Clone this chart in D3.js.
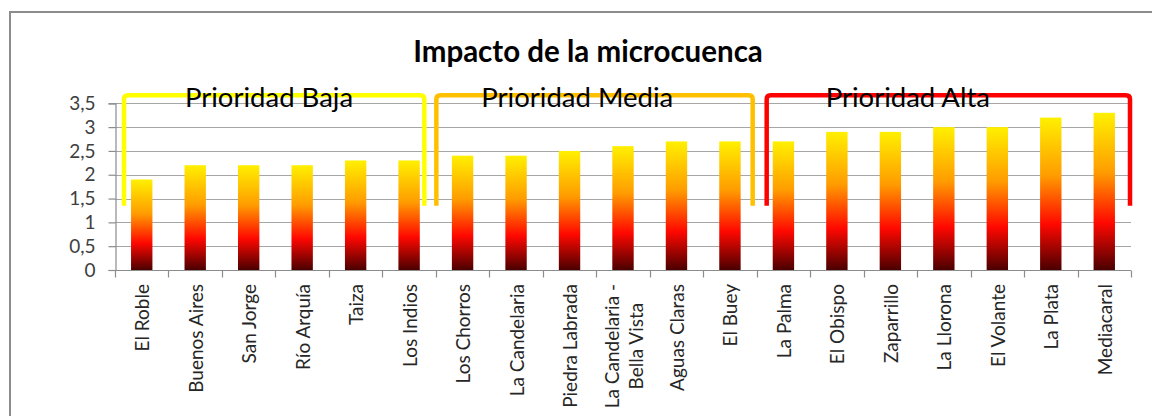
<!DOCTYPE html>
<html>
<head>
<meta charset="utf-8">
<script src="https://cdn.jsdelivr.net/npm/d3@7"></script>
<style>
  html, body { margin: 0; padding: 0; background: #fff; }
  svg { display: block; }
</style>
</head>
<body>
<svg id="chart" width="1152" height="416"></svg>
<script>
// ---- data ----
const title = "Impacto de la microcuenca";
const categories = ["El Roble", "Buenos Aires", "San Jorge", "Río Arquía", "Taiza", "Los Indios",
  "Los Chorros", "La Candelaria", "Piedra Labrada", "La Candelaria - Bella Vista", "Aguas Claras", "El Buey",
  "La Palma", "El Obispo", "Zaparrillo", "La Llorona", "El Volante", "La Plata", "Mediacaral"];
const values = [1.9, 2.2, 2.2, 2.2, 2.3, 2.3, 2.4, 2.4, 2.5, 2.6, 2.7, 2.7, 2.7, 2.9, 2.9, 3.0, 3.0, 3.2, 3.3];
const yTicks = [0, 0.5, 1, 1.5, 2, 2.5, 3, 3.5];
const groupNames = ["Prioridad Baja", "Prioridad Media", "Prioridad Alta"];
const groupStart = [0, 6, 12];
const groupEnd = [5, 11, 18];
const groupColors = ["#FFFF00", "#FFC000", "#FF0000"];
const bracketTop = 3.67, bracketBottom = 1.35;

// ---- layout (styling only) ----
const svg = d3.select("#chart");
const plot = { left: 115, right: 1131, top: 103.3, bottom: 270 };
const x = d3.scaleBand().domain(categories).range([plot.left, plot.right]).paddingInner(0).paddingOuter(0);
const y = d3.scaleLinear().domain([0, 3.5]).range([plot.bottom, plot.top]);
const bw = x.bandwidth();
const barW = bw / 2.5;
const FONT = "Lato, 'Open Sans', sans-serif";

// frame
svg.append("rect").attr("x", 10).attr("y", 12).attr("width", 1200).attr("height", 500)
  .attr("fill", "none").attr("stroke", "#8c8c8c").attr("stroke-width", 2);

// gradient
const defs = svg.append("defs");
const grad = defs.append("linearGradient").attr("id", "fire")
  .attr("x1", 0).attr("y1", 0).attr("x2", 0).attr("y2", 1);
[[0, "#FFF000"], [0.38, "#FF9C00"], [0.7, "#FF0800"], [1, "#4A0000"]].forEach(([o, c]) =>
  grad.append("stop").attr("offset", o).attr("stop-color", c));

// gridlines
svg.append("g").selectAll("line").data(yTicks.filter(t => t > 0)).join("line")
  .attr("x1", plot.left).attr("x2", plot.right)
  .attr("y1", d => Math.round(y(d)) + 0.5).attr("y2", d => Math.round(y(d)) + 0.5)
  .attr("stroke", "#a6a6a6").attr("stroke-width", 1.2);

// y axis
const yAxis = d3.axisLeft(y).tickValues(yTicks).tickSize(7).tickPadding(13)
  .tickFormat(d => String(d).replace(".", ","));
const gy = svg.append("g").attr("transform", `translate(${plot.left + 0.5},0)`).call(yAxis);
gy.select(".domain").attr("stroke", "#8c8c8c").attr("stroke-width", 1.2);
gy.selectAll(".tick line").attr("stroke", "#8c8c8c").attr("stroke-width", 1.2);
gy.selectAll(".tick text").attr("font-family", FONT).attr("font-size", 19)
  .attr("fill", "#404040");

// bars
svg.append("g").selectAll("rect").data(values).join("rect")
  .attr("x", (d, i) => x(categories[i]) + (bw - barW) / 2)
  .attr("y", d => y(d))
  .attr("width", barW)
  .attr("height", d => y(0) - y(d))
  .attr("fill", "url(#fire)");

// x axis
const gx = svg.append("g").attr("transform", `translate(0,${plot.bottom + 0.5})`);
gx.append("line").attr("x1", plot.left).attr("x2", plot.right).attr("stroke", "#8c8c8c").attr("stroke-width", 1.2);
const boundaries = categories.map(c => x(c)).concat([plot.right]);
gx.selectAll("line.tk").data(boundaries).join("line").attr("class", "tk")
  .attr("x1", d => Math.round(d) + 0.5).attr("x2", d => Math.round(d) + 0.5).attr("y1", 0).attr("y2", 7)
  .attr("stroke", "#8c8c8c").attr("stroke-width", 1.2);

// x labels (rotated, wrapped)
const labelTop = 284, maxLen = 140, lineGap = 24;
const lab = svg.append("g").attr("font-family", FONT).attr("font-size", 19).attr("fill", "#262626");
categories.forEach((c, i) => {
  const cx = x(c) + bw / 2;
  const words = c.split(" ");
  const lines = [];
  let cur = "";
  const probe = lab.append("text").attr("visibility", "hidden");
  words.forEach(w => {
    const t = cur ? cur + " " + w : w;
    probe.text(t);
    if (cur && probe.node().getComputedTextLength() > maxLen) { lines.push(cur); cur = w; }
    else cur = t;
  });
  lines.push(cur);
  const lens = lines.map(l => { probe.text(l); return probe.node().getComputedTextLength(); });
  probe.remove();
  const mx = d3.max(lens);
  lines.forEach((l, k) => {
    const off = (k - (lines.length - 1) / 2) * lineGap;
    lab.append("text")
      .attr("transform", `translate(${cx + off},${labelTop + mx / 2}) rotate(-90)`)
      .attr("text-anchor", "middle").attr("dominant-baseline", "central")
      .text(l);
  });
});

// brackets
const bracketInset = [[9, -11.5], [0.5, -4], [10, -1]];
const labelOffset = [61, 45, 59];
const bg = svg.append("g");
groupNames.forEach((g, i) => {
  const x0 = x(categories[groupStart[i]]) + bracketInset[i][0];
  const x1 = x(categories[groupEnd[i]]) + bw + bracketInset[i][1];
  const yt = y(bracketTop), yb = y(bracketBottom), r = 4;
  const p = `M${x0},${yb} L${x0},${yt + r} Q${x0},${yt} ${x0 + r},${yt} L${x1 - r},${yt} Q${x1},${yt} ${x1},${yt + r} L${x1},${yb}`;
  bg.append("path").attr("d", p).attr("fill", "none").attr("stroke", groupColors[i])
    .attr("stroke-width", 4.5);
  bg.append("text").attr("x", x0 + labelOffset[i]).attr("y", 106.5)
    .attr("font-family", FONT).attr("font-size", 27.5).attr("fill", "#000")
    .text(g);
});

// title
svg.append("text").attr("x", 588).attr("y", 61.5).attr("text-anchor", "middle")
  .attr("font-family", FONT).attr("font-size", 29.5).attr("font-weight", "bold")
  .attr("fill", "#000").text(title);
</script>
</body>
</html>
